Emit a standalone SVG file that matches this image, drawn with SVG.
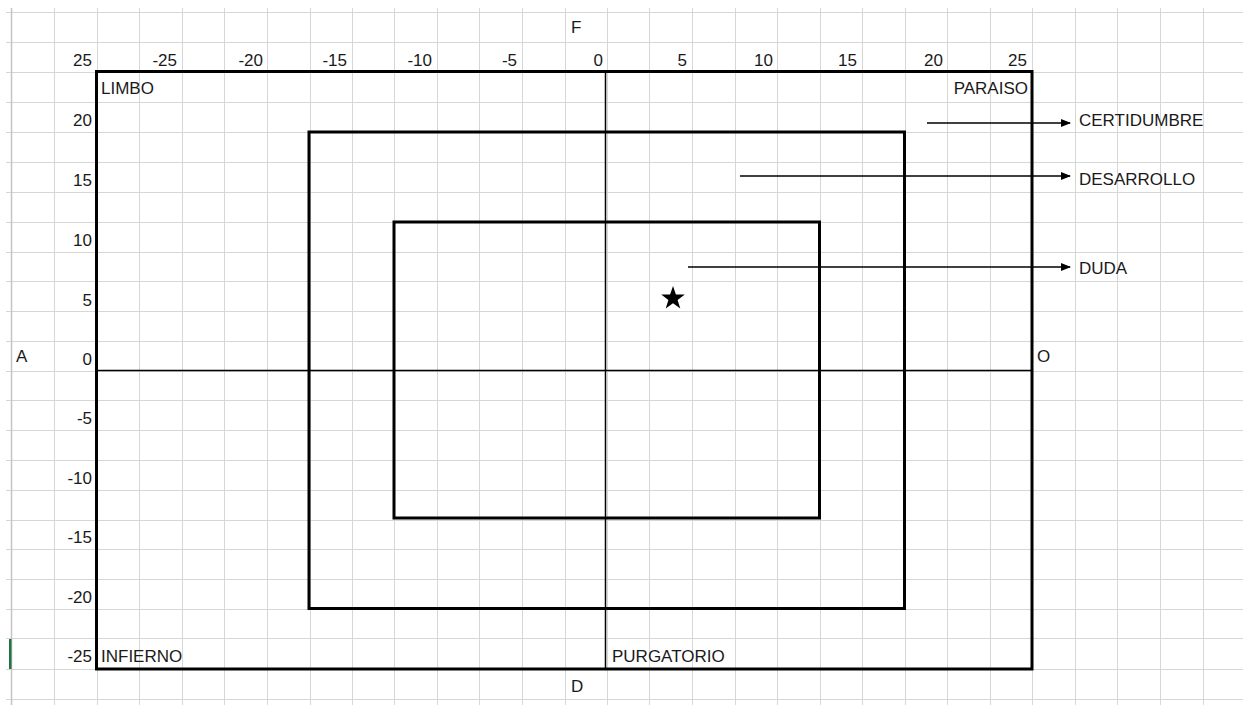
<svg xmlns="http://www.w3.org/2000/svg" width="1243" height="705" viewBox="0 0 1243 705">
<defs>
<style>
.g{stroke:#d6d6d6;stroke-width:1;fill:none}
.t{font-family:"Liberation Sans",Arial,sans-serif;font-size:17px;fill:#1a1a1a}
.r{text-anchor:end}
.box{fill:none;stroke:#000;stroke-width:3}
.ax{stroke:#000;stroke-width:1.5;fill:none}
.ar{stroke:#000;stroke-width:1.5;fill:none;marker-end:url(#ah)}
</style>
<marker id="ah" markerWidth="10" markerHeight="8" refX="9" refY="4" orient="auto" markerUnits="userSpaceOnUse">
<path d="M0,0 L10,4 L0,8 Z" fill="#000"/>
</marker>
</defs>
<rect width="1243" height="705" fill="#fff"/>
<g id="grid">
<path class="g" d="M6,12.5H1243M6,42.5H1243M6,72.5H1243M6,102.5H1243M6,132.5H1243M6,162.5H1243M6,192.5H1243M6,222.5H1243M6,252.5H1243M6,281.5H1243M6,311.5H1243M6,341.5H1243M6,371.5H1243M6,400.5H1243M6,430.5H1243M6,460.5H1243M6,490.5H1243M6,520.5H1243M6,549.5H1243M6,579.5H1243M6,609.5H1243M6,638.5H1243M6,669.5H1243M6,699.5H1243"/>
<path class="g" d="M54.5,8V705M97.5,8V705M139.5,8V705M182.5,8V705M224.5,8V705M267.5,8V705M310.5,8V705M352.5,8V705M394.5,8V705M437.5,8V705M479.5,8V705M522.5,8V705M565.5,8V705M607.5,8V705M649.5,8V705M692.5,8V705M735.5,8V705M777.5,8V705M820.5,8V705M862.5,8V705M905.5,8V705M947.5,8V705M990.5,8V705M1032.5,8V705M1075.5,8V705M1117.5,8V705M1160.5,8V705M1203.5,8V705"/>
<path d="M11.5,8V705" stroke="#c4c4c4" stroke-width="1.5"/>
<rect x="9" y="639" width="2.5" height="30" fill="#217346"/>
</g>
<g id="axis-labels">
<text class="t" x="571" y="33">F</text>
<text class="t" x="571" y="692">D</text>
<text class="t" x="16" y="362">A</text>
<text class="t" x="1037" y="362">O</text>
<text class="t r" x="92" y="66">25</text>
<text class="t r" x="177" y="66">-25</text>
<text class="t r" x="263" y="66">-20</text>
<text class="t r" x="347" y="66">-15</text>
<text class="t r" x="432" y="66">-10</text>
<text class="t r" x="517" y="66">-5</text>
<text class="t r" x="603" y="66">0</text>
<text class="t r" x="687" y="66">5</text>
<text class="t r" x="773" y="66">10</text>
<text class="t r" x="857" y="66">15</text>
<text class="t r" x="943" y="66">20</text>
<text class="t r" x="1027" y="66">25</text>
<text class="t r" x="92" y="126">20</text>
<text class="t r" x="92" y="186">15</text>
<text class="t r" x="92" y="246">10</text>
<text class="t r" x="92" y="306">5</text>
<text class="t r" x="92" y="365">0</text>
<text class="t r" x="92" y="424">-5</text>
<text class="t r" x="92" y="484">-10</text>
<text class="t r" x="92" y="543">-15</text>
<text class="t r" x="92" y="603">-20</text>
<text class="t r" x="92" y="662">-25</text>
</g>
<g id="outer">
<rect class="box" x="96.5" y="71.5" width="935.5" height="597.5"/>
<text class="t" x="101" y="94">LIMBO</text>
<text class="t r" x="1028" y="94">PARAISO</text>
<text class="t" x="101" y="662">INFIERNO</text>
<text class="t" x="612" y="662">PURGATORIO</text>
</g>
<g id="middle"><rect class="box" x="309" y="132" width="595.5" height="476.5"/></g>
<g id="inner"><rect class="box" x="394" y="222" width="425.5" height="296"/></g>
<g id="axes">
<path class="ax" d="M605.5,72V669"/>
<path class="ax" d="M98,370.5H1032"/>
</g>
<g id="star"><polygon fill="#000" points="673,286 675.9,294.5 684.8,294.5 677.6,299.9 680.3,308.4 673,303.2 665.7,308.4 668.4,299.9 661.2,294.5 670.1,294.5"/></g>
<g id="connectors">
<path class="ar" d="M927,123H1070"/>
<path class="ar" d="M740,176H1070"/>
<path class="ar" d="M688,267H1070"/>
</g>
<g id="labels">
<text class="t" x="1079" y="126">CERTIDUMBRE</text>
<text class="t" x="1079" y="185">DESARROLLO</text>
<text class="t" x="1079" y="274">DUDA</text>
</g>
</svg>
